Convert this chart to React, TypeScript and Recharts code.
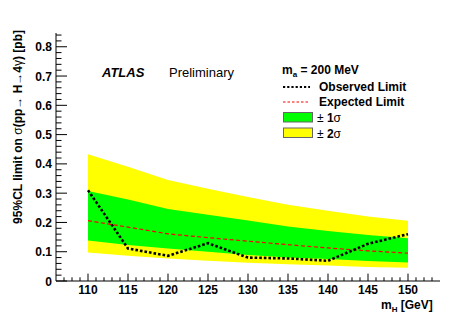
import React from "react";
import { ComposedChart, Area, Line, XAxis, YAxis } from "recharts";

// m_H points [GeV]
const masses = [110, 115, 120, 125, 130, 135, 140, 145, 150];
// 95% CL limits [pb]
const observed = [0.31, 0.111, 0.086, 0.129, 0.08, 0.077, 0.069, 0.127, 0.16];
const expected = [0.206, 0.184, 0.161, 0.148, 0.136, 0.124, 0.113, 0.103, 0.095];
const plus1 = [0.307, 0.278, 0.246, 0.226, 0.207, 0.186, 0.171, 0.157, 0.146];
const minus1 = [0.138, 0.123, 0.111, 0.1, 0.089, 0.08, 0.075, 0.068, 0.063];
const plus2 = [0.433, 0.39, 0.345, 0.315, 0.287, 0.26, 0.24, 0.22, 0.206];
const minus2 = [0.097, 0.086, 0.077, 0.069, 0.062, 0.057, 0.053, 0.048, 0.045];

const xTicks: number[] = [];
for (let v = 107; v <= 153; v++) xTicks.push(v);
const yTicks: number[] = [];
for (let i = 1; i <= 42; i++) yTicks.push(+(i * 0.02).toFixed(2));
yTicks.unshift(0);

const data = masses.map((m, i) => ({
  m,
  obs: observed[i],
  exp: expected[i],
  band1: [minus1[i], plus1[i]],
  band2: [minus2[i], plus2[i]],
}));

const FONT = "'Liberation Sans', Arial, Helvetica, sans-serif";

const isMajorY = (v: number) => Math.round(v * 50) % 5 === 0;

const BottomTick = ({ x, y, payload }: any) => {
  const v = payload.value;
  const major = v % 5 === 0;
  return (
    <g>
      <line x1={x} x2={x} y1={y} y2={y - (major ? 7.4 : 3.7)} stroke="#000" />
      {major && (
        <text x={x} y={y + 13} textAnchor="middle" fontFamily={FONT} fontWeight="bold" fontSize={12} fill="#000">
          {v}
        </text>
      )}
    </g>
  );
};

const TopTick = ({ x, y, payload }: any) => {
  const major = payload.value % 5 === 0;
  return <line x1={x} x2={x} y1={y} y2={y + (major ? 7.4 : 3.7)} stroke="#000" />;
};

const LeftTick = ({ x, y, payload }: any) => {
  const v = payload.value;
  const major = isMajorY(v);
  return (
    <g>
      <line x1={x} x2={x + (major ? 11 : 5.5)} y1={y} y2={y} stroke="#000" />
      {major && (
        <text x={x - 4} y={y + 4.5} textAnchor="end" fontFamily={FONT} fontWeight="bold" fontSize={12} fill="#000">
          {v === 0 ? "0" : v.toFixed(1)}
        </text>
      )}
    </g>
  );
};

const RightTick = ({ x, y, payload }: any) => {
  const major = isMajorY(payload.value);
  return <line x1={x} x2={x - (major ? 11 : 5.5)} y1={y} y2={y} stroke="#000" />;
};

export default function App() {
  return (
    <div style={{ position: "absolute", left: 0, top: 0, width: 463, height: 314, background: "#fff" }}>
      <ComposedChart width={463} height={314} data={data} margin={{ top: 33, right: 23, bottom: 0, left: 0 }}>
        <XAxis
          dataKey="m"
          type="number"
          domain={[106, 154]}
          ticks={xTicks}
          interval={0}
          tickSize={0}
          tickMargin={0}
          tick={<BottomTick />}
          axisLine={{ stroke: "#000" }}
          height={33}
          allowDataOverflow
        />
        <XAxis
          xAxisId="top"
          orientation="top"
          type="number"
          domain={[106, 154]}
          ticks={xTicks}
          interval={0}
          tickSize={0}
          tickMargin={0}
          tick={<TopTick />}
          axisLine={{ stroke: "#000" }}
          height={0}
          allowDataOverflow
        />
        <YAxis
          type="number"
          domain={[0, 0.847]}
          ticks={yTicks}
          interval={0}
          tickSize={0}
          tickMargin={0}
          tick={<LeftTick />}
          axisLine={{ stroke: "#000" }}
          width={56}
          allowDataOverflow
        />
        <YAxis
          yAxisId="right"
          orientation="right"
          type="number"
          domain={[0, 0.847]}
          ticks={yTicks}
          interval={0}
          tickSize={0}
          tickMargin={0}
          tick={<RightTick />}
          axisLine={{ stroke: "#000" }}
          width={0}
          allowDataOverflow
        />
        <Area
          dataKey="band2"
          type="linear"
          stroke="none"
          fill="#ffff00"
          fillOpacity={1}
          isAnimationActive={false}
          activeDot={false}
        />
        <Area
          dataKey="band1"
          type="linear"
          stroke="none"
          fill="#00ff00"
          fillOpacity={1}
          isAnimationActive={false}
          activeDot={false}
        />
        <Line
          dataKey="exp"
          type="linear"
          stroke="#ff0000"
          strokeWidth={1.2}
          strokeDasharray="4 2.5"
          dot={false}
          isAnimationActive={false}
        />
        <Line
          dataKey="obs"
          type="linear"
          stroke="#000"
          strokeWidth={2.6}
          strokeDasharray="2.6 2"
          dot={false}
          isAnimationActive={false}
        />
      </ComposedChart>

      <svg width={463} height={314} style={{ position: "absolute", left: 0, top: 0, pointerEvents: "none" }}>
        <text
          transform="rotate(-90)"
          x={-30}
          y={22}
          textAnchor="end"
          fontFamily={FONT}
          fontWeight="bold"
          fontSize={12}
          fill="#000"
        >
          95%CL limit on <tspan fontWeight="normal">σ</tspan>(pp<tspan fontWeight="normal">→</tspan> H
          <tspan fontWeight="normal">→</tspan>4<tspan fontWeight="normal">γ</tspan>) [pb]
        </text>

        <text x={381} y={308.5} fontFamily={FONT} fontWeight="bold" fontSize={12} fill="#000">
          m<tspan fontSize={8} dy={3}>H</tspan>
          <tspan dy={-3}> [GeV]</tspan>
        </text>

        <text x={102} y={77} fontFamily={FONT} fontWeight="bold" fontStyle="italic" fontSize={13} fill="#000">
          ATLAS
        </text>
        <text x={169} y={77} fontFamily={FONT} fontSize={13} fill="#000">
          Preliminary
        </text>

        <text x={282} y={74} fontFamily={FONT} fontWeight="bold" fontSize={12} fill="#000">
          m<tspan fontSize={8} dy={3}>a</tspan>
          <tspan dy={-3}> = 200 MeV</tspan>
        </text>

        <line x1={283} x2={310} y1={87} y2={87} stroke="#000" strokeWidth={2.2} strokeDasharray="2.2 2" />
        <text x={319} y={91} fontFamily={FONT} fontWeight="bold" fontSize={12} fill="#000">
          Observed Limit
        </text>

        <line x1={283} x2={310} y1={102} y2={102} stroke="#ff0000" strokeWidth={1} strokeDasharray="2.5 2" />
        <text x={319} y={106} fontFamily={FONT} fontWeight="bold" fontSize={12} fill="#000">
          Expected Limit
        </text>

        <rect x={283.5} y={112.5} width={29} height={9.5} fill="#00ff00" stroke="#666" />
        <text x={317} y={122} fontFamily={FONT} fontSize={12} fill="#000">
          ± <tspan fontWeight="bold">1</tspan>σ
        </text>

        <rect x={283.5} y={128} width={29} height={9.5} fill="#ffff00" stroke="#666" />
        <text x={317} y={137.5} fontFamily={FONT} fontSize={12} fill="#000">
          ± <tspan fontWeight="bold">2</tspan>σ
        </text>
      </svg>
    </div>
  );
}
